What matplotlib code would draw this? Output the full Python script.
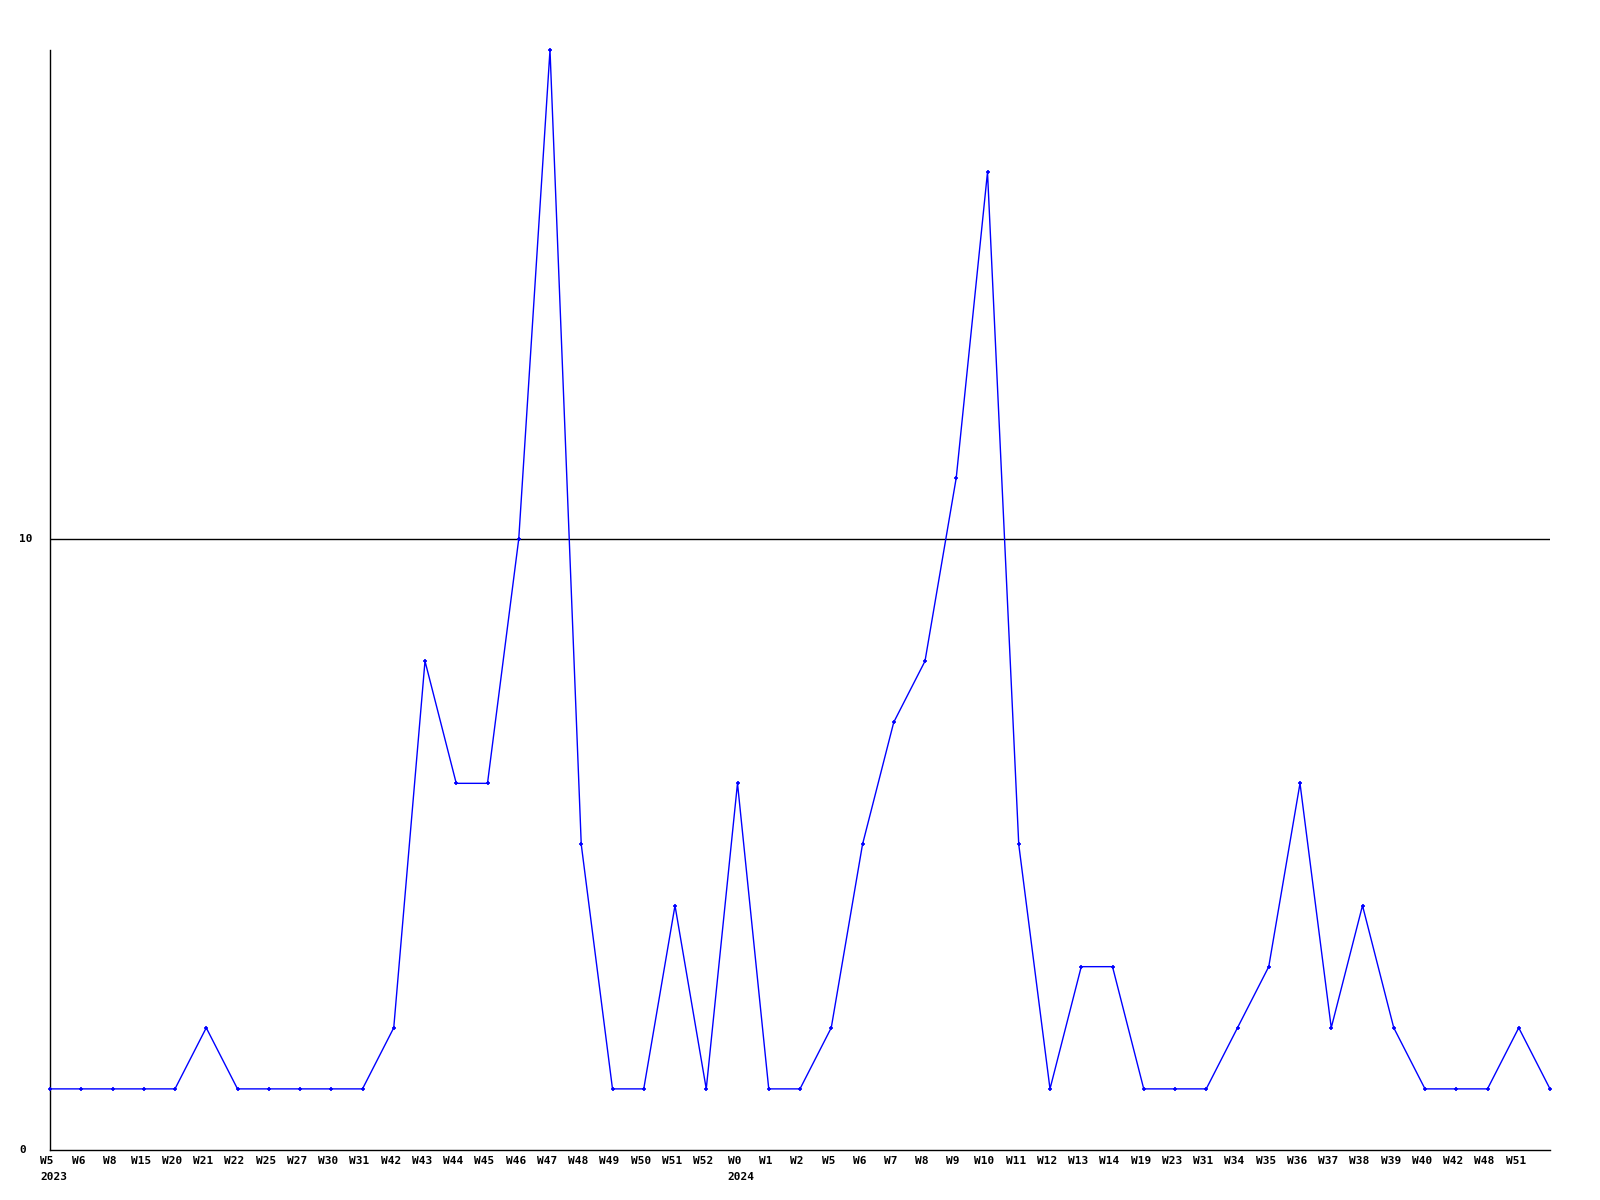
import matplotlib
matplotlib.use('Agg')
import matplotlib.pyplot as plt

weeks = ['W5', 'W6', 'W8', 'W15', 'W20', 'W21', 'W22', 'W25', 'W27', 'W30', 'W31',
         'W42', 'W43', 'W44', 'W45', 'W46', 'W47', 'W48', 'W49', 'W50', 'W51', 'W52',
         'W0', 'W1', 'W2', 'W5', 'W6', 'W7', 'W8', 'W9', 'W10', 'W11', 'W12', 'W13',
         'W14', 'W19', 'W23', 'W31', 'W34', 'W35', 'W36', 'W37', 'W38', 'W39', 'W40',
         'W42', 'W48', 'W51', '']
counts = [1, 1, 1, 1, 1, 2, 1, 1, 1, 1, 1,
          2, 8, 6, 6, 10, 18, 5, 1, 1, 4, 1,
          6, 1, 1, 2, 5, 7, 8, 11, 16, 5, 1, 3,
          3, 1, 1, 1, 2, 3, 6, 2, 4, 2, 1,
          1, 1, 2, 1]
years = {0: '2023', 22: '2024'}
y_ticks = [0, 10]

W, H = 1600, 1200
fig = plt.figure(figsize=(16, 12), dpi=100, facecolor='white')
ax = fig.add_axes([50 / W, 50 / H, 1500 / W, 1100 / H])

x = list(range(len(counts)))
ax.plot(x, counts, color='#0000ff', linewidth=1, marker='+',
        markersize=3.5, markeredgewidth=1.2, clip_on=False, zorder=3)

ax.set_xlim(0, len(counts) - 1)
ax.set_ylim(0, 18)

for pos in ('top', 'right'):
    ax.spines[pos].set_visible(False)
for pos in ('left', 'bottom'):
    ax.spines[pos].set_color('black')
    ax.spines[pos].set_linewidth(1)

# horizontal reference line
for yv in y_ticks[1:]:
    ax.axhline(yv, color='black', linewidth=1, zorder=1)

ax.set_xticks([])
ax.set_yticks([])

font = dict(family='DejaVu Sans Mono', fontweight='bold', fontsize=8)

# y labels, left aligned near the figure edge
for yv in y_ticks:
    ax.annotate(str(yv), xy=(0, yv), xycoords=('axes fraction', 'data'),
                xytext=(-31, 0), textcoords='offset pixels',
                ha='left', va='center', **font)

# week labels and year markers
for i, lab in enumerate(weeks):
    ax.annotate(lab, xy=(i, 0), xycoords=('data', 'axes fraction'),
                xytext=(-3, -11), textcoords='offset pixels',
                ha='center', va='center', **font)
for i, yr in years.items():
    ax.annotate(yr, xy=(i, 0), xycoords=('data', 'axes fraction'),
                xytext=(-10, -27), textcoords='offset pixels',
                ha='left', va='center', **font)

fig.savefig('out.png', dpi=100, facecolor='white')
